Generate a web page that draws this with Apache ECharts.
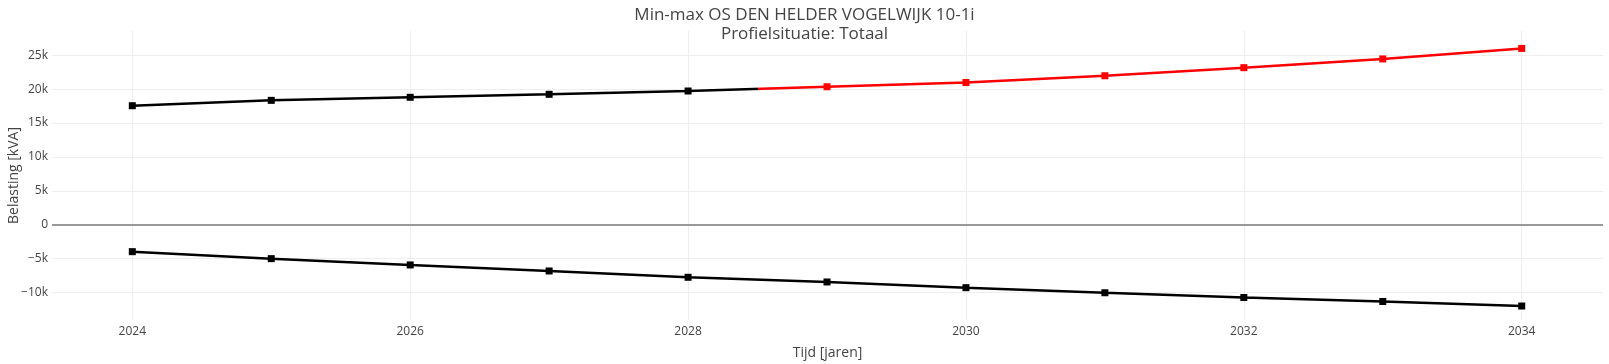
<!DOCTYPE html>
<html>
<head>
<meta charset="utf-8">
<script src="https://cdn.jsdelivr.net/npm/echarts@6/dist/echarts.min.js"></script>
<style>
html,body{margin:0;padding:0;background:#fff;}
#chart{width:1609px;height:364px;}
</style>
</head>
<body>
<div id="chart"></div>
<script>
const years = [2024, 2025, 2026, 2027, 2028, 2029, 2030, 2031, 2032, 2033, 2034];
const maxValues = [17550, 18340, 18790, 19230, 19720, 20350, 20970, 21970, 23160, 24450, 26000];
const minValues = [-3980, -5010, -5940, -6830, -7760, -8450, -9290, -10040, -10740, -11330, -12000];
const xTicks = [2024, 2026, 2028, 2030, 2032, 2034];
const yTicks = [-10000, -5000, 0, 5000, 10000, 15000, 20000, 25000];
const colorSplitYear = 2028.5;
const xMin = 2023.422, xMax = 2034.585;
const yMin = -14060, yMax = 28570;

const font = '"Open Sans", "Noto Sans", sans-serif';
const chart = echarts.init(document.getElementById('chart'), null, {renderer: 'canvas'});

function yFmt(v) {
  if (v === 0) return '0';
  const k = Math.abs(v) / 1000;
  return (v < 0 ? '\u2212' : '') + k + 'k';
}

chart.setOption({
  animation: false,
  backgroundColor: '#ffffff',
  title: {
    text: 'Min-max OS DEN HELDER VOGELWIJK 10-1i\nProfielsituatie: Totaal',
    left: 'center',
    top: 0,
    textStyle: {fontFamily: font, fontSize: 17, fontWeight: 'normal', color: '#444', lineHeight: 19.5}
  },
  grid: {left: 52, right: 6, top: 31, bottom: 44, containLabel: false, outerBoundsMode: 'none'},
  xAxis: {
    type: 'value',
    min: xMin,
    max: xMax,
    name: 'Tijd [jaren]',
    nameLocation: 'middle',
    nameGap: 26,
    nameMoveOverlap: false,
    nameTextStyle: {fontFamily: font, fontSize: 14, color: '#444'},
    axisLine: {show: false},
    axisTick: {show: false, customValues: xTicks},
    axisLabel: {customValues: xTicks, fontFamily: font, fontSize: 12, color: '#444', margin: 6, formatter: v => String(v)},
    splitLine: {show: true, lineStyle: {color: '#eeeeee', width: 1}}
  },
  yAxis: {
    type: 'value',
    min: yMin,
    max: yMax,
    name: 'Belasting [kVA]',
    nameLocation: 'middle',
    nameGap: 31,
    nameMoveOverlap: false,
    nameTextStyle: {fontFamily: font, fontSize: 14, color: '#444'},
    axisLine: {show: false},
    axisTick: {show: false, customValues: yTicks},
    axisLabel: {customValues: yTicks, fontFamily: font, fontSize: 12, color: '#444', margin: 4, formatter: yFmt},
    splitLine: {show: true, lineStyle: {color: '#eeeeee', width: 1}}
  },
  series: [
    {
      id: 'max',
      type: 'line',
      data: years.map((y, i) => [y, maxValues[i]]),
      symbol: 'rect',
      symbolSize: 7,
      itemStyle: {color: p => (p.value[0] < colorSplitYear ? '#000000' : '#ff0000')},
      lineStyle: {width: 2.5, color: '#000000'},
      z: 3
    },
    {
      id: 'min',
      type: 'line',
      data: years.map((y, i) => [y, minValues[i]]),
      symbol: 'rect',
      symbolSize: 7,
      itemStyle: {color: '#000000'},
      lineStyle: {width: 2.5, color: '#000000'},
      z: 3,
      markLine: {
        silent: true,
        symbol: ['none', 'none'],
        label: {show: false},
        lineStyle: {color: '#999999', width: 2, type: 'solid'},
        data: [{yAxis: 0}],
        z: 1
      }
    }
  ]
});

// Colour the max line black before the split year and red after it,
// using the axis scale to locate the split.
const px0 = chart.convertToPixel({xAxisIndex: 0}, xMin);
const px1 = chart.convertToPixel({xAxisIndex: 0}, xMax);
const pxs = chart.convertToPixel({xAxisIndex: 0}, colorSplitYear);
const frac = (pxs - px0) / (px1 - px0);
chart.setOption({
  series: [{
    id: 'max',
    lineStyle: {
      color: new echarts.graphic.LinearGradient(px0, 0, px1, 0, [
        {offset: 0, color: '#000000'},
        {offset: frac, color: '#000000'},
        {offset: frac, color: '#ff0000'},
        {offset: 1, color: '#ff0000'}
      ], true)
    }
  }]
});
</script>
</body>
</html>
